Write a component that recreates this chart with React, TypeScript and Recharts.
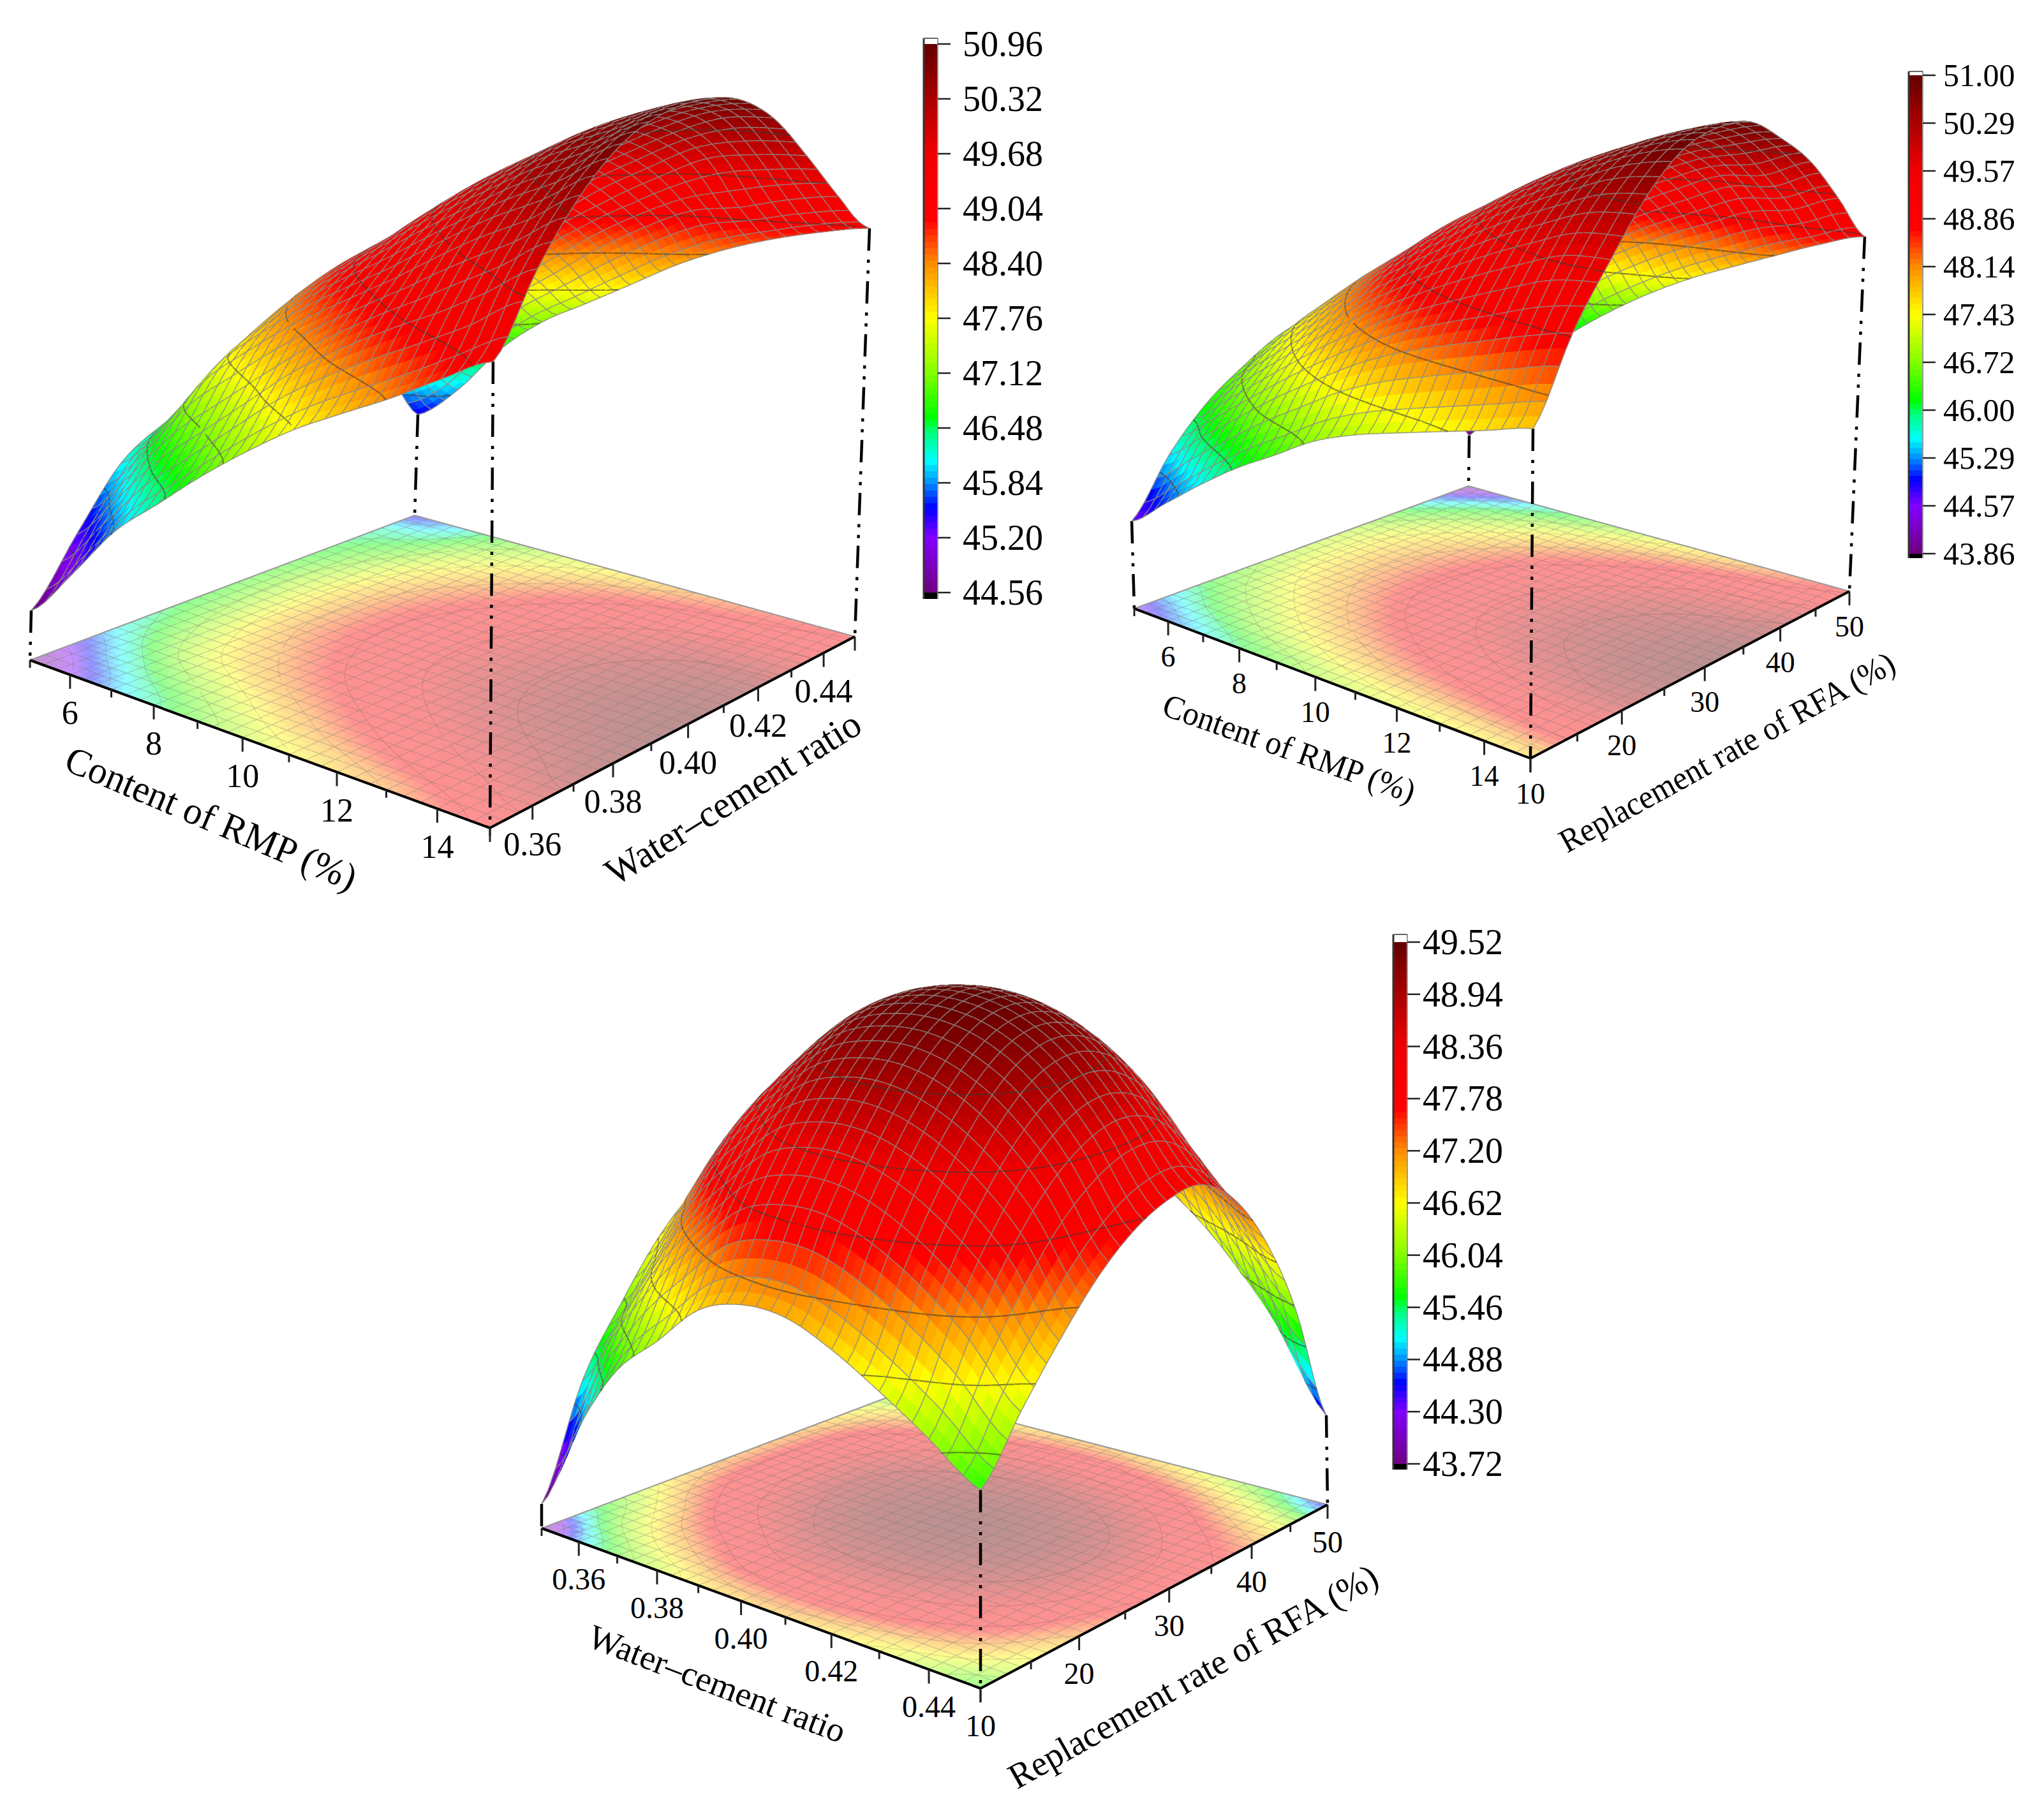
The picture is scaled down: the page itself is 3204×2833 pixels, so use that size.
import { ScatterChart, Scatter, XAxis, YAxis } from 'recharts';

// strength tables: rows go along the left axis, columns along the right axis
const rmpVsWaterCement = [
  [44.56, 45.35, 46.1, 46.45, 46.65, 46.75, 46.75, 46.65, 46.5, 46.25, 45.45],
  [45.2, 45.98, 46.7, 47.1, 47.3, 47.4, 47.38, 47.2, 46.9, 46.45, 45.95],
  [45.9, 46.62, 47.45, 47.85, 48.1, 48.15, 48.08, 47.88, 47.55, 47.12, 46.65],
  [46.4, 47.12, 47.95, 48.4, 48.68, 48.75, 48.68, 48.45, 48.08, 47.62, 47.15],
  [46.9, 47.62, 48.4, 48.85, 49.1, 49.2, 49.12, 48.9, 48.55, 48.05, 47.5],
  [47.35, 48.12, 48.78, 49.25, 49.52, 49.6, 49.53, 49.32, 48.97, 48.48, 47.85],
  [47.76, 48.53, 49.15, 49.61, 49.89, 49.98, 49.91, 49.7, 49.34, 48.84, 48.2],
  [48.1, 48.89, 49.51, 49.94, 50.2, 50.29, 50.22, 50.0, 49.64, 49.13, 48.48],
  [48.43, 49.22, 49.84, 50.25, 50.5, 50.58, 50.5, 50.28, 49.9, 49.25, 48.7],
  [48.8, 49.55, 50.12, 50.5, 50.72, 50.8, 50.72, 50.49, 50.0, 49.4, 48.87],
  [49.15, 49.9, 50.45, 50.8, 50.95, 50.96, 50.85, 50.55, 50.05, 49.5, 49.0],
];

const rmpVsReplacement = [
  [44.6, 45.54, 46.2, 46.6, 46.9, 47.0, 46.95, 46.6, 46.0, 45.06, 43.86],
  [45.1, 46.02, 46.7, 47.2, 47.45, 47.55, 47.5, 47.19, 46.62, 45.83, 44.8],
  [45.6, 46.5, 47.2, 47.7, 48.0, 48.1, 48.0, 47.69, 47.18, 46.47, 45.55],
  [46.05, 46.97, 47.68, 48.19, 48.5, 48.6, 48.5, 48.2, 47.7, 47.0, 46.1],
  [46.42, 47.38, 48.14, 48.67, 48.99, 49.1, 49.0, 48.7, 48.2, 47.5, 46.6],
  [46.8, 47.77, 48.53, 49.07, 49.39, 49.5, 49.4, 49.11, 48.62, 47.93, 47.05],
  [47.05, 48.08, 48.87, 49.44, 49.79, 49.9, 49.8, 49.51, 49.02, 48.33, 47.45],
  [47.23, 48.32, 49.16, 49.77, 50.13, 50.25, 50.15, 49.86, 49.37, 48.68, 47.8],
  [47.4, 48.53, 49.42, 50.05, 50.42, 50.55, 50.45, 50.17, 49.69, 49.01, 48.15],
  [47.57, 48.74, 49.65, 50.3, 50.69, 50.82, 50.73, 50.4, 49.83, 49.19, 48.5],
  [47.75, 48.9, 49.7, 50.4, 50.85, 51.0, 50.95, 50.6, 50.15, 49.5, 48.8],
];

const waterCementVsReplacement = [
  [43.72, 45.15, 46.0, 46.65, 47.05, 47.2, 47.2, 47.1, 46.85, 46.4, 45.7],
  [44.9, 46.0, 46.7, 47.4, 47.85, 48.0, 48.0, 47.85, 47.5, 46.92, 46.15],
  [45.8, 46.7, 47.5, 48.1, 48.42, 48.55, 48.52, 48.32, 47.92, 47.28, 46.45],
  [46.3, 47.25, 48.0, 48.55, 48.9, 49.05, 49.0, 48.73, 48.27, 47.63, 46.8],
  [46.8, 47.72, 48.43, 48.94, 49.25, 49.35, 49.26, 48.97, 48.5, 47.85, 47.0],
  [47.0, 47.9, 48.6, 49.1, 49.4, 49.5, 49.4, 49.12, 48.64, 47.96, 47.1],
  [47.0, 47.91, 48.61, 49.12, 49.42, 49.52, 49.42, 49.12, 48.61, 47.91, 47.0],
  [46.8, 47.74, 48.46, 48.98, 49.3, 49.4, 49.29, 48.97, 48.43, 47.67, 46.7],
  [46.5, 47.44, 48.16, 48.68, 49.0, 49.1, 48.98, 48.64, 48.06, 47.24, 46.2],
  [46.15, 47.01, 47.69, 48.17, 48.45, 48.55, 48.43, 48.06, 47.45, 46.6, 45.5],
  [45.75, 46.4, 46.95, 47.4, 47.7, 47.85, 47.85, 47.55, 46.95, 46.0, 44.5],
];

const legendA = ['50.96', '50.32', '49.68', '49.04', '48.40', '47.76', '47.12', '46.48', '45.84', '45.20', '44.56'];
const legendB = ['51.00', '50.29', '49.57', '48.86', '48.14', '47.43', '46.72', '46.00', '45.29', '44.57', '43.86'];
const legendC = ['49.52', '48.94', '48.36', '47.78', '47.20', '46.62', '46.04', '45.46', '44.88', '44.30', '43.72'];

const rmpRange = [5, 15];
const rmpMajor = [6, 8, 10, 12, 14];
const rmpMinor = [5, 7, 9, 11, 13, 15];
const waterCementRange = [0.35, 0.45];
const waterCementMajor = [0.36, 0.38, 0.4, 0.42, 0.44];
const waterCementMinor = [0.35, 0.37, 0.39, 0.41, 0.43, 0.45];
const replacementRange = [10, 50];
const replacementMajor = [10, 20, 30, 40, 50];
const replacementMinor = [15, 25, 35, 45];

const WIDTH = 3204;
const HEIGHT = 2833;
const FINE = 60; // 2 fine cells per mesh cell

const colorStops: [number, number[]][] = [
  [0, [112, 0, 128]], [0.1, [128, 0, 255]], [0.155, [0, 0, 255]], [0.2, [0, 144, 255]],
  [0.24, [0, 255, 255]], [0.29, [0, 255, 128]], [0.32, [0, 255, 0]], [0.4, [130, 255, 0]],
  [0.5, [255, 255, 0]], [0.6, [255, 140, 0]], [0.68, [255, 0, 0]], [0.8, [240, 0, 0]], [1, [100, 0, 0]],
];

function rampColor(t: number, alpha = 1) {
  const k = Math.max(0, Math.min(1, t));
  let n = 0;
  while (n < colorStops.length - 2 && k > colorStops[n + 1][0]) n++;
  const [a, ca] = colorStops[n];
  const [b, cb] = colorStops[n + 1];
  const f = (k - a) / (b - a);
  const c = ca.map((v, i) => v + (cb[i] - v) * f);
  const mix = c.map(v => Math.round(v * alpha + 255 * (1 - alpha)));
  return `rgb(${mix[0]},${mix[1]},${mix[2]})`;
}

// smooth reading of a table between its nodes, same job as a curve type on a line
function cr(p0: number, p1: number, p2: number, p3: number, f: number) {
  return 0.5 * (2 * p1 + (p2 - p0) * f + (2 * p0 - 5 * p1 + 4 * p2 - p3) * f * f + (3 * p1 - p0 - 3 * p2 + p3) * f * f * f);
}
function readTable(table: number[][], s: number, t: number) {
  const n = table.length - 1;
  const m = table[0].length - 1;
  const iu = Math.min(n - 1, Math.floor(s * n));
  const iv = Math.min(m - 1, Math.floor(t * m));
  const row = (i: number) => {
    const r = table[Math.max(0, Math.min(n, i))];
    return cr(r[Math.max(0, iv - 1)], r[iv], r[iv + 1], r[Math.min(m, iv + 2)], t * m - iv);
  };
  return cr(row(iu - 1), row(iu), row(iu + 1), row(iu + 2), s * n - iu);
}

type Pt = number[];
interface View {
  table: number[][];
  legend: string[];
  floor: { L: Pt; F: Pt; R: Pt; B: Pt };
  top: { L: Pt; F: Pt; R: Pt; B: Pt };
  z0: number;
  bulge: number;
  bulgeFrom: number;
  leftAxis: { range: number[]; major: number[]; minor: number[]; digits: number };
  rightAxis: { range: number[]; major: number[]; minor: number[]; digits: number };
  tickFont: number;
  labelDy: number;
  leftTitle: { text: string; at: Pt; angle: number; length: number; font: number };
  rightTitle: { text: string; at: Pt; angle: number; length: number; font: number };
  bar: { x: number; w: number; top: number; bottom: number; tickTop: number; tickBottom: number; labelX: number; font: number };
}

const views: View[] = [
  {
    table: rmpVsWaterCement,
    legend: legendA,
    floor: { L: [47, 1035], F: [768, 1298], R: [1340, 998], B: [650, 808] },
    top: { L: [49, 957], F: [773, 567], R: [1363, 358], B: [655, 650] },
    z0: 43.92, bulge: 0.027, bulgeFrom: 49.26,
    leftAxis: { range: rmpRange, major: rmpMajor, minor: rmpMinor, digits: 0 },
    rightAxis: { range: waterCementRange, major: waterCementMajor, minor: waterCementMinor, digits: 2 },
    tickFont: 52, labelDy: 60,
    leftTitle: { text: 'Content of RMP (%)', at: [331, 1283], angle: 23, length: 490, font: 60 },
    rightTitle: { text: 'Water–cement ratio', at: [1149, 1251], angle: -32, length: 460, font: 60 },
    bar: { x: 1448, w: 22, top: 60, bottom: 939, tickTop: 69, tickBottom: 929, labelX: 1509, font: 56 },
  },
  {
    table: rmpVsReplacement,
    legend: legendB,
    floor: { L: [1778, 954], F: [2399, 1189], R: [2899, 927], B: [2302, 762] },
    top: { L: [1774, 817], F: [2403, 672], R: [2923, 371], B: [2303, 683] },
    z0: 43, bulge: 0.015, bulgeFrom: 48.8,
    leftAxis: { range: rmpRange, major: rmpMajor, minor: rmpMinor, digits: 0 },
    rightAxis: { range: replacementRange, major: replacementMajor, minor: replacementMinor, digits: 0 },
    tickFont: 46, labelDy: 55,
    leftTitle: { text: 'Content of RMP (%)', at: [2021, 1173], angle: 19.5, length: 416, font: 52 },
    rightTitle: { text: 'Replacement rate of RFA (%)', at: [2707, 1179], angle: -29, length: 593, font: 52 },
    bar: { x: 2992, w: 22, top: 112, bottom: 875, tickTop: 118, tickBottom: 868, labelX: 3046, font: 50 },
  },
  {
    table: waterCementVsReplacement,
    legend: legendC,
    floor: { L: [849, 2396], F: [1537, 2647], R: [2081, 2359], B: [1409, 2184] },
    top: { L: [849, 2358], F: [1537, 2336], R: [2079, 2219], B: [1409, 1919] },
    z0: 43.4, bulge: 0.028, bulgeFrom: 46,
    leftAxis: { range: waterCementRange, major: waterCementMajor, minor: waterCementMinor, digits: 2 },
    rightAxis: { range: replacementRange, major: replacementMajor, minor: replacementMinor, digits: 0 },
    tickFont: 48, labelDy: 58,
    leftTitle: { text: 'Water–cement ratio', at: [1124, 2640], angle: 21, length: 427, font: 54 },
    rightTitle: { text: 'Replacement rate of RFA (%)', at: [1870, 2628], angle: -29.5, length: 655, font: 56 },
    bar: { x: 2184, w: 22, top: 1465, bottom: 2304, tickTop: 1477, tickBottom: 2295, labelX: 2230, font: 56 },
  },
];

// unit square to floor quad, keeps the perspective spacing of the ticks
function floorMap(q: View['floor']) {
  const [x0, y0] = q.L, [x1, y1] = q.F, [x2, y2] = q.R, [x3, y3] = q.B;
  const dx1 = x1 - x2, dx2 = x3 - x2, sx = x0 - x1 + x2 - x3;
  const dy1 = y1 - y2, dy2 = y3 - y2, sy = y0 - y1 + y2 - y3;
  const den = dx1 * dy2 - dx2 * dy1;
  const g = (sx * dy2 - dx2 * sy) / den;
  const h = (dx1 * sy - sx * dy1) / den;
  const a = x1 - x0 + g * x1, b = x3 - x0 + h * x3;
  const d = y1 - y0 + g * y1, e = y3 - y0 + h * y3;
  return (s: number, t: number): Pt => {
    const w = g * s + h * t + 1;
    return [(a * s + b * t + x0) / w, (d * s + e * t + y0) / w];
  };
}

function surfaceMap(v: View) {
  const lift = (z: number) => (z - v.z0) * (1 + v.bulge * Math.max(0, z - v.bulgeFrom));
  const tb = v.table;
  const last = tb.length - 1;
  const vec = (k: 'L' | 'F' | 'R' | 'B', z: number) => [(v.top[k][0] - v.floor[k][0]) / lift(z), (v.top[k][1] - v.floor[k][1]) / lift(z)];
  const vL = vec('L', tb[0][0]), vF = vec('F', tb[last][0]), vR = vec('R', tb[last][last]), vB = vec('B', tb[0][last]);
  const toFloor = floorMap(v.floor);
  return (s: number, t: number, z: number): Pt => {
    const p = toFloor(s, t);
    const k = lift(z);
    const up = [0, 1].map(i => (1 - s) * (1 - t) * vL[i] + s * (1 - t) * vF[i] + s * t * vR[i] + (1 - s) * t * vB[i]);
    return [p[0] + up[0] * k, p[1] + up[1] * k];
  };
}

const num = (v: number) => v.toFixed(1);

function buildCells(v: View, flat: boolean) {
  const toFloor = floorMap(v.floor);
  const toTop = surfaceMap(v);
  const lo = Number(v.legend[v.legend.length - 1]);
  const hi = Number(v.legend[0]);
  const levels = v.legend.slice(1, -1).map(Number);
  const zs: number[][] = [];
  const pts: Pt[][] = [];
  for (let i = 0; i <= FINE; i++) {
    zs.push([]);
    pts.push([]);
    for (let j = 0; j <= FINE; j++) {
      const s = i / FINE, t = j / FINE;
      const z = readTable(v.table, s, t);
      zs[i].push(z);
      pts[i].push(flat ? toFloor(s, t) : toTop(s, t, z));
    }
  }
  const cells: any[] = [];
  // far corner first so nearer cells paint over it
  for (let i = 0; i < FINE; i++) {
    for (let j = FINE - 1; j >= 0; j--) {
      const a = pts[i][j], b = pts[i + 1][j], c = pts[i + 1][j + 1], d = pts[i][j + 1];
      const ox = a[0], oy = a[1];
      const rel = (p: Pt) => `${num(p[0] - ox)} ${num(p[1] - oy)}`;
      const zAvg = (zs[i][j] + zs[i + 1][j] + zs[i + 1][j + 1] + zs[i][j + 1]) / 4;
      let mesh = '';
      if (i % 2 === 0) mesh += `M${rel(a)}L${rel(d)}`;
      if ((j + 1) % 2 === 0) mesh += `M${rel(d)}L${rel(c)}`;
      if (j === 0) mesh += `M${rel(a)}L${rel(b)}`;
      if (i + 1 === FINE) mesh += `M${rel(b)}L${rel(c)}`;
      let iso = '';
      const corners = [[a, zs[i][j]], [b, zs[i + 1][j]], [c, zs[i + 1][j + 1]], [d, zs[i][j + 1]]] as [Pt, number][];
      for (const lv of levels) {
        const hits: string[] = [];
        for (let k = 0; k < 4; k++) {
          const [p, zp] = corners[k];
          const [q, zq] = corners[(k + 1) % 4];
          if ((zp - lv) * (zq - lv) < 0) {
            const f = (lv - zp) / (zq - zp);
            hits.push(rel([p[0] + (q[0] - p[0]) * f, p[1] + (q[1] - p[1]) * f]));
          }
        }
        if (hits.length >= 2) iso += `M${hits[0]}L${hits[1]}`;
      }
      cells.push({
        x: ox, y: oy,
        d: `M${rel(a)}L${rel(b)}L${rel(c)}L${rel(d)}Z`,
        fill: rampColor((zAvg - lo) / (hi - lo), flat ? 0.43 : 1),
        mesh, iso, flat,
      });
    }
  }
  return cells;
}

function CellShape(props: any) {
  const { cx, cy, payload: p } = props;
  return (
    <g transform={`translate(${cx},${cy})`}>
      <path d={p.d} fill={p.fill} stroke={p.fill} strokeWidth={1} />
      {p.mesh && <path d={p.mesh} fill="none" stroke={p.flat ? 'rgba(120,120,120,0.34)' : 'rgba(140,140,135,0.85)'} strokeWidth={p.flat ? 1.4 : 1.6} />}
      {p.iso && <path d={p.iso} fill="none" stroke={p.flat ? 'rgba(70,70,70,0.18)' : 'rgba(60,60,50,0.6)'} strokeWidth={p.flat ? 1.5 : 2.2} />}
    </g>
  );
}

function SegmentShape(props: any) {
  const { cx, cy, payload: p } = props;
  return (
    <line x1={cx} y1={cy} x2={cx + p.dx} y2={cy + p.dy} stroke={p.color} strokeWidth={p.width} strokeDasharray={p.dash} />
  );
}

function BandShape(props: any) {
  const { cx, cy, payload: p } = props;
  return <rect x={cx} y={cy} width={p.w} height={p.h} fill={p.fill} />;
}

function TextShape(props: any) {
  const { cx, cy, payload: p } = props;
  return (
    <text
      x={cx}
      y={cy}
      transform={p.angle ? `rotate(${p.angle} ${cx} ${cy})` : undefined}
      fontFamily='"Liberation Serif", serif'
      fontSize={p.font}
      textAnchor={p.anchor}
      dominantBaseline="central"
      textLength={p.length}
      lengthAdjust={p.length ? 'spacingAndGlyphs' : undefined}
      fill="#000"
    >
      {p.text}
    </text>
  );
}

function buildFrame(v: View) {
  const toFloor = floorMap(v.floor);
  const seg = (a: Pt, b: Pt, color: string, width: number, dash?: string) => ({ x: a[0], y: a[1], dx: b[0] - a[0], dy: b[1] - a[1], color, width, dash });
  const lines: any[] = [];
  const labels: any[] = [];
  lines.push(seg(v.floor.L, v.floor.B, '#9a9a9a', 2));
  lines.push(seg(v.floor.B, v.floor.R, '#9a9a9a', 2));
  lines.push(seg(v.floor.L, v.floor.F, '#000', 4));
  lines.push(seg(v.floor.F, v.floor.R, '#000', 4));
  const tick = (p: Pt, len: number) => lines.push(seg(p, [p[0], p[1] + len], '#222', 3));
  const { leftAxis: la, rightAxis: ra } = v;
  const sOf = (x: number) => (x - la.range[0]) / (la.range[1] - la.range[0]);
  const tOf = (x: number) => (x - ra.range[0]) / (ra.range[1] - ra.range[0]);
  la.major.forEach(x => {
    const p = toFloor(sOf(x), 0);
    tick(p, 22);
    labels.push({ x: p[0], y: p[1] + v.labelDy, text: x.toFixed(la.digits), font: v.tickFont, anchor: 'middle' });
  });
  la.minor.forEach(x => tick(toFloor(sOf(x), 0), x === la.range[1] ? 22 : 12));
  ra.major.forEach(x => {
    const p = toFloor(1, tOf(x));
    tick(p, 22);
    labels.push({ x: p[0], y: p[1] + v.labelDy, text: x.toFixed(ra.digits), font: v.tickFont, anchor: 'middle' });
  });
  ra.minor.forEach(x => tick(toFloor(1, tOf(x)), x === ra.range[1] ? 22 : 12));
  for (const k of ['L', 'F', 'R', 'B'] as const) {
    lines.push(seg(v.top[k], v.floor[k], '#000', 4.5, '35 14 5 12 5 12'));
  }
  for (const title of [v.leftTitle, v.rightTitle]) {
    labels.push({ x: title.at[0], y: title.at[1], text: title.text, font: title.font, anchor: 'middle', angle: title.angle, length: title.length });
  }
  return { lines, labels };
}

function buildBar(v: View) {
  const b = v.bar;
  const bands: any[] = [];
  const steps = 86;
  const span = b.tickBottom - b.tickTop;
  for (let i = 0; i < steps; i++) {
    bands.push({ x: b.x, y: b.tickTop + (span * i) / steps, w: b.w, h: span / steps + 1, fill: rampColor(1 - (i + 0.5) / steps) });
  }
  bands.push({ x: b.x, y: b.top, w: b.w, h: b.tickTop - b.top, fill: '#fff' });
  bands.push({ x: b.x, y: b.tickBottom, w: b.w, h: b.bottom - b.tickBottom, fill: '#000' });
  const seg = (x: number, y: number, dx: number, dy: number, color: string, width: number) => ({ x, y, dx, dy, color, width });
  const lines: any[] = [
    seg(b.x, b.top, 0, b.bottom - b.top, '#333', 3),
    seg(b.x + b.w, b.top, 0, b.bottom - b.top, '#999', 2),
    seg(b.x, b.top, b.w, 0, '#666', 2),
  ];
  const labels: any[] = [];
  v.legend.forEach((text, i) => {
    const y = b.tickTop + (span * i) / (v.legend.length - 1);
    lines.push(seg(b.x + b.w, y, 20, 0, '#222', 2.5));
    labels.push({ x: b.labelX, y, text, font: b.font, anchor: 'start' });
  });
  return { bands, lines, labels };
}

const layers = views.map(v => ({
  floor: buildCells(v, true),
  surface: buildCells(v, false),
  frame: buildFrame(v),
  bar: buildBar(v),
}));

export default function App() {
  return (
    <div style={{ position: 'absolute', left: 0, top: 0, width: WIDTH, height: HEIGHT, background: '#fff' }}>
      <ScatterChart width={WIDTH} height={HEIGHT} margin={{ top: 0, right: 0, bottom: 0, left: 0 }}>
        <XAxis dataKey="x" type="number" domain={[0, WIDTH]} hide />
        <YAxis dataKey="y" type="number" domain={[0, HEIGHT]} reversed hide />
        {layers.map((l, i) => [
          <Scatter key={`floor${i}`} data={l.floor} shape={CellShape} isAnimationActive={false} />,
          <Scatter key={`frame${i}`} data={l.frame.lines} shape={SegmentShape} isAnimationActive={false} />,
          <Scatter key={`surface${i}`} data={l.surface} shape={CellShape} isAnimationActive={false} />,
          <Scatter key={`text${i}`} data={l.frame.labels} shape={TextShape} isAnimationActive={false} />,
          <Scatter key={`bands${i}`} data={l.bar.bands} shape={BandShape} isAnimationActive={false} />,
          <Scatter key={`barLines${i}`} data={l.bar.lines} shape={SegmentShape} isAnimationActive={false} />,
          <Scatter key={`barText${i}`} data={l.bar.labels} shape={TextShape} isAnimationActive={false} />,
        ])}
      </ScatterChart>
    </div>
  );
}
